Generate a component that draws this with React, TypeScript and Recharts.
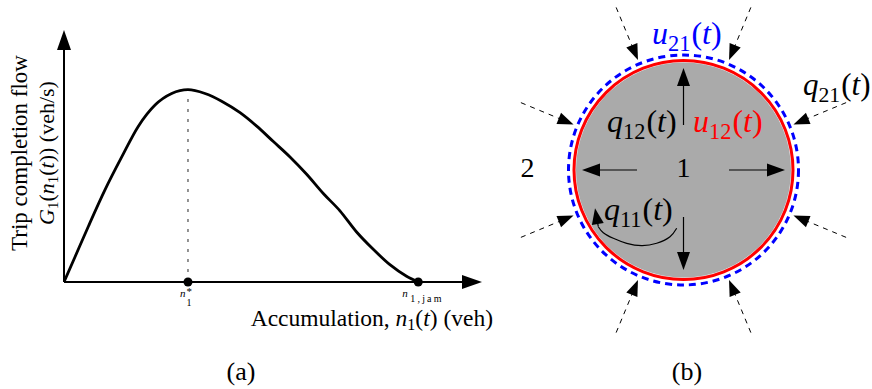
import React from 'react';
import {
  LineChart,
  ComposedChart,
  Line,
  XAxis,
  YAxis,
  ReferenceLine,
  ReferenceDot,
  Customized,
} from 'recharts';

// panel (a): trip completion flow vs accumulation (schematic MFD)
const accumulation = [0, 3.1, 6.9, 11.6, 16.3, 21, 25.7, 30.4, 35, 39.8, 44.5, 49.7, 54.4, 59.1, 63.8, 68.5, 73.2, 77.9, 82.6, 87.3, 92, 96.7, 100];
const tripFlow = [0, 0.13, 0.29, 0.48, 0.65, 0.81, 0.92, 0.98, 1.0, 0.98, 0.94, 0.88, 0.81, 0.73, 0.65, 0.56, 0.46, 0.37, 0.26, 0.17, 0.09, 0.03, 0];
const nCritical = 35;
const nJam = 100;
const peakFlow = 1.0;
const nAxisMax = 118;
const gAxisMax = 1.31;

// panel (b): region 1 with its boundary flows (units: circle radius ~ 1.1)
const regionRadius = 1.095;
const boundaryRadius = 1.15;
const spokeAngles = [22.5, 67.5, 112.5, 157.5, 202.5, 247.5, 292.5, 337.5];
const spokeOuter = 1.76;
const spokeInner = 1.19;
const innerArrowAngles = [90, 180, 270, 0];
const innerArrowStart = [0.45, 0.465, 0.47, 0.455];
const innerArrowEnd = [1.02, 1.015, 1.0, 1.015];
const loopX = [-0.068, -0.135, -0.268, -0.418, -0.568, -0.702, -0.802, -0.852];
const loopY = [-0.583, -0.667, -0.733, -0.757, -0.733, -0.683, -0.627, -0.567];
const loopTip = { x: -0.885, y: -0.383 };

const SERIF = "'Liberation Serif', 'DejaVu Serif', serif";
const PX = 100; // pixels per unit in panel (b)
const B_W = 372;
const B_H = 389;
const B_CX = 183.5;
const B_CY = 170;
const B_XDOM = [-B_CX / PX, (B_W - B_CX) / PX];
const B_YDOM = [-(B_H - B_CY) / PX, B_CY / PX];

const flowData = accumulation.map((n, i) => ({ n, g: tripFlow[i] }));
const loopData = loopX.map((x, i) => ({ x, y: loopY[i] }));

const arrow = (head: number, half: number, width: number, dash?: string) => (p: any) => {
  const { x1, y1, x2, y2 } = p;
  const dx = x2 - x1;
  const dy = y2 - y1;
  const len = Math.hypot(dx, dy) || 1;
  const ux = dx / len;
  const uy = dy / len;
  const bx = x2 - ux * head;
  const by = y2 - uy * head;
  const px = -uy * half;
  const py = ux * half;
  return (
    <g>
      <line x1={x1} y1={y1} x2={bx + ux * 2} y2={by + uy * 2} stroke="#000" strokeWidth={width} strokeDasharray={dash} />
      <polygon points={`${x2},${y2} ${bx + px},${by + py} ${bx - px},${by - py}`} fill="#000" />
    </g>
  );
};

const MathLabel = ({ x, y, base, sub, size, color = '#000', anchor = 'start' }: any) => (
  <text x={x} y={y} fontFamily={SERIF} fontSize={size} fill={color} textAnchor={anchor}>
    <tspan fontStyle="italic">{base}</tspan>
    <tspan fontSize={size * 0.7} dy={size * 0.22}>{sub}</tspan>
    <tspan dy={-size * 0.22} dx={1}>(</tspan>
    <tspan fontStyle="italic">t</tspan>
    <tspan>)</tspan>
  </text>
);

const AccTick = ({ x, y, payload }: any) => {
  if (payload.value === nCritical) {
    return (
      <g fontFamily={SERIF} fill="#000">
        <text x={x - 8} y={y + 15} fontSize={11} fontStyle="italic">n</text>
        <text x={x - 1.5} y={y + 13} fontSize={11}>*</text>
        <text x={x - 1.5} y={y + 24} fontSize={10}>1</text>
      </g>
    );
  }
  return (
    <g fontFamily={SERIF} fill="#000">
      <text x={x - 16} y={y + 15} fontSize={11} fontStyle="italic">n</text>
      <text x={x - 8} y={y + 20} fontSize={10} letterSpacing={2.2}>1,jam</text>
    </g>
  );
};

const PanelAText = () => (
  <g fontFamily={SERIF} fill="#000">
    <text x={27} y={153} fontSize={23} textAnchor="middle" transform="rotate(-90, 27, 153)">
      Trip completion flow
    </text>
    <text x={54} y={153} fontSize={22} textAnchor="middle" transform="rotate(-90, 54, 153)">
      <tspan fontStyle="italic">G</tspan>
      <tspan fontSize={15} dy={4}>1</tspan>
      <tspan dy={-4}>(</tspan>
      <tspan fontStyle="italic">n</tspan>
      <tspan fontSize={15} dy={4}>1</tspan>
      <tspan dy={-4}>(</tspan>
      <tspan fontStyle="italic">t</tspan>
      <tspan>)) (veh/s)</tspan>
    </text>
    <text x={493} y={326} fontSize={23.5} textAnchor="end">
      <tspan>Accumulation, </tspan>
      <tspan fontStyle="italic">n</tspan>
      <tspan fontSize={16} dy={4}>1</tspan>
      <tspan dy={-4}>(</tspan>
      <tspan fontStyle="italic">t</tspan>
      <tspan>) (veh)</tspan>
    </text>
    <text x={241} y={380} fontSize={26} textAnchor="middle">(a)</text>
  </g>
);

const label = (node: (cx: number, cy: number) => React.ReactNode) => (p: any) => <g>{node(p.cx, p.cy)}</g>;

const rad = (a: number) => (a * Math.PI) / 180;

export default function App() {
  return (
    <div style={{ position: 'absolute', left: 0, top: 0, width: 872, height: 389, background: '#fff', overflow: 'hidden' }}>
      <div style={{ position: 'absolute', left: 0, top: 0 }}>
        <LineChart width={500} height={389} data={flowData} margin={{ top: 30, right: 18, bottom: 77, left: 64 }}>
          <XAxis
            type="number"
            dataKey="n"
            domain={[0, nAxisMax]}
            allowDataOverflow
            ticks={[nCritical, nJam]}
            tick={<AccTick />}
            tickLine={false}
            axisLine={false}
            tickSize={0}
            tickMargin={0}
            height={30}
          />
          <YAxis type="number" domain={[0, gAxisMax]} allowDataOverflow hide />
          <ReferenceLine
            segment={[{ x: nCritical, y: 0 }, { x: nCritical, y: peakFlow * 0.97 }]}
            stroke="#666"
            strokeWidth={1.4}
            strokeDasharray="3 7"
            ifOverflow="visible"
          />
          <Line type="monotone" dataKey="g" stroke="#000" strokeWidth={2.8} dot={false} isAnimationActive={false} />
          <ReferenceLine segment={[{ x: 0, y: 0 }, { x: nAxisMax, y: 0 }]} ifOverflow="visible" shape={arrow(20, 7, 2)} />
          <ReferenceLine segment={[{ x: 0, y: 0 }, { x: 0, y: gAxisMax }]} ifOverflow="visible" shape={arrow(20, 7, 2)} />
          <ReferenceDot x={nCritical} y={0} r={4.5} fill="#000" stroke="none" ifOverflow="visible" />
          <ReferenceDot x={nJam} y={0} r={4.5} fill="#000" stroke="none" ifOverflow="visible" />
          <Customized component={PanelAText} />
        </LineChart>
      </div>

      {/* panel (b), bottom layer: region disk and boundaries */}
      <div style={{ position: 'absolute', left: 500, top: 0 }}>
        <ComposedChart width={B_W} height={B_H} margin={{ top: 0, right: 0, bottom: 0, left: 0 }}>
          <XAxis type="number" dataKey="x" domain={B_XDOM} allowDataOverflow hide />
          <YAxis type="number" dataKey="y" domain={B_YDOM} allowDataOverflow hide />
          <ReferenceDot x={0} y={0} r={regionRadius * PX - 1.5} fill="#aaaaaa" stroke="#ececec" strokeWidth={1} ifOverflow="visible" />
          <ReferenceDot x={0} y={0} r={regionRadius * PX} fill="none" stroke="#ff0000" strokeWidth={3} ifOverflow="visible" />
          <ReferenceDot x={0} y={0} r={boundaryRadius * PX} fill="none" stroke="#0000ff" strokeWidth={3} strokeDasharray="7 5" ifOverflow="visible" />
        </ComposedChart>
      </div>

      {/* panel (b), top layer: flows and labels */}
      <div style={{ position: 'absolute', left: 500, top: 0 }}>
        <ComposedChart width={B_W} height={B_H} margin={{ top: 0, right: 0, bottom: 0, left: 0 }}>
          <XAxis type="number" dataKey="x" domain={B_XDOM} allowDataOverflow hide />
          <YAxis type="number" dataKey="y" domain={B_YDOM} allowDataOverflow hide />
          <Line data={loopData} type="natural" dataKey="y" stroke="#000" strokeWidth={1.2} dot={false} isAnimationActive={false} />
          <ReferenceLine
            segment={[{ x: loopX[loopX.length - 1], y: loopY[loopY.length - 1] }, loopTip]}
            ifOverflow="visible"
            shape={arrow(16, 6, 1.2)}
          />
          {innerArrowAngles.map((a, i) => (
            <ReferenceLine
              key={`in${a}`}
              segment={[
                { x: innerArrowStart[i] * Math.cos(rad(a)), y: innerArrowStart[i] * Math.sin(rad(a)) },
                { x: innerArrowEnd[i] * Math.cos(rad(a)), y: innerArrowEnd[i] * Math.sin(rad(a)) },
              ]}
              ifOverflow="visible"
              shape={arrow(18, 6.5, 1.2)}
            />
          ))}
          {spokeAngles.map((a) => (
            <ReferenceLine
              key={`sp${a}`}
              segment={[
                { x: spokeOuter * Math.cos(rad(a)), y: spokeOuter * Math.sin(rad(a)) },
                { x: spokeInner * Math.cos(rad(a)), y: spokeInner * Math.sin(rad(a)) },
              ]}
              ifOverflow="visible"
              shape={arrow(16, 6, 1, '5 5')}
            />
          ))}
          <ReferenceDot x={0} y={-0.07} r={0} ifOverflow="visible"
            shape={label((cx, cy) => <text x={cx} y={cy} fontFamily={SERIF} fontSize={28} textAnchor="middle">1</text>)} />
          <ReferenceDot x={-1.56} y={-0.07} r={0} ifOverflow="visible"
            shape={label((cx, cy) => <text x={cx} y={cy} fontFamily={SERIF} fontSize={28} textAnchor="middle">2</text>)} />
          <ReferenceDot x={-0.315} y={1.26} r={0} ifOverflow="visible"
            shape={label((cx, cy) => <MathLabel x={cx} y={cy} base="u" sub="21" size={32} color="#0000ff" />)} />
          <ReferenceDot x={-0.765} y={0.38} r={0} ifOverflow="visible"
            shape={label((cx, cy) => <MathLabel x={cx} y={cy} base="q" sub="12" size={32} />)} />
          <ReferenceDot x={0.095} y={0.38} r={0} ifOverflow="visible"
            shape={label((cx, cy) => <MathLabel x={cx} y={cy} base="u" sub="12" size={32} color="#ff0000" />)} />
          <ReferenceDot x={-0.795} y={-0.5} r={0} ifOverflow="visible"
            shape={label((cx, cy) => <MathLabel x={cx} y={cy} base="q" sub="11" size={32} />)} />
          <ReferenceDot x={1.195} y={0.75} r={0} ifOverflow="visible"
            shape={label((cx, cy) => <MathLabel x={cx} y={cy} base="q" sub="21" size={31} />)} />
          <ReferenceDot x={0.035} y={-2.1} r={0} ifOverflow="visible"
            shape={label((cx, cy) => <text x={cx} y={cy} fontFamily={SERIF} fontSize={26} textAnchor="middle">(b)</text>)} />
        </ComposedChart>
      </div>
    </div>
  );
}
